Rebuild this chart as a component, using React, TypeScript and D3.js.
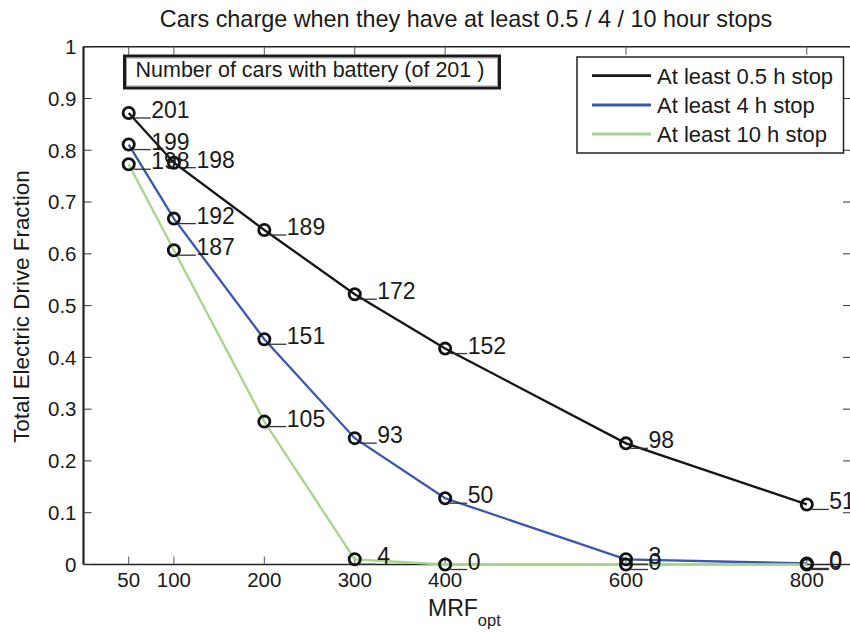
import React from "react";
import * as d3 from "d3";

// MRF_opt values on the x axis
const mrf = [50, 100, 200, 300, 400, 600, 800];
// Total electric drive fraction per minimum stop length
const frac05 = [0.872, 0.776, 0.646, 0.522, 0.417, 0.234, 0.116];
const frac4 = [0.811, 0.668, 0.435, 0.244, 0.128, 0.01, 0.002];
const frac10 = [0.773, 0.607, 0.276, 0.01, 0, 0, 0];
// Number of cars with a battery (of 201)
const cars05 = [201, 198, 189, 172, 152, 98, 51];
const cars4 = [199, 192, 151, 93, 50, 3, 0];
const cars10 = [198, 187, 105, 4, 0, 0, 0];

const seriesNames = ["At least 0.5 h stop", "At least 4 h stop", "At least 10 h stop"];
const seriesColors = ["#151515", "#3a58a8", "#a6d68c"];
const xTicks = [50, 100, 200, 300, 400, 600, 800];
const yTicks = [0, 0.1, 0.2, 0.3, 0.4, 0.5, 0.6, 0.7, 0.8, 0.9, 1];

const W = 850;
const H = 632;
const FONT = "'Liberation Sans', Arial, Helvetica, sans-serif";
const INK = "#1a1a1a";

export default function App() {
  const x = d3.scaleLinear().domain([0, 850]).range([83.5, 852]);
  const y = d3.scaleLinear().domain([0, 1]).range([564.5, 46.7]);
  const left = x.range()[0];
  const right = x.range()[1];
  const top = y.range()[1];
  const bottom = y.range()[0];

  const series = [
    { name: seriesNames[0], color: seriesColors[0], values: frac05, counts: cars05 },
    { name: seriesNames[1], color: seriesColors[1], values: frac4, counts: cars4 },
    { name: seriesNames[2], color: seriesColors[2], values: frac10, counts: cars10 },
  ];

  const line = d3
    .line<number>()
    .x((_, i) => x(mrf[i]))
    .y((v) => y(v));

  const legendX = 577;
  const legendY = 57;
  const legendRows = [75.7, 105, 134];

  return (
    <div style={{ position: "fixed", left: 0, top: 0, width: W, height: H, background: "#fff" }}>
      <svg width={W} height={H} style={{ display: "block", fontFamily: FONT }}>
        <rect x={0} y={0} width={W} height={H} fill="#fff" />
        {/* title */}
        <text x={466} y={27} textAnchor="middle" fontSize={23.4} fill={INK}>
          Cars charge when they have at least 0.5 / 4 / 10 hour stops
        </text>

        {/* axes frame */}
        <line x1={left} x2={right} y1={top} y2={top} stroke="#222" strokeWidth={1.6} />
        <line x1={left} x2={right} y1={bottom} y2={bottom} stroke="#222" strokeWidth={1.6} />
        <line x1={left} x2={left} y1={top} y2={bottom} stroke="#222" strokeWidth={2.2} />
        <line x1={right} x2={right} y1={top} y2={bottom} stroke="#222" strokeWidth={1.6} />

        {/* y ticks and labels */}
        {yTicks.map((t) => (
          <g key={"y" + t}>
            <line x1={left} x2={left + 8} y1={y(t)} y2={y(t)} stroke="#333" strokeWidth={1} />
            <line x1={right - 9} x2={right} y1={y(t)} y2={y(t)} stroke="#333" strokeWidth={1} />
            <text x={76.5} y={y(t) + 7.3} textAnchor="end" fontSize={20.5} fill={INK}>
              {d3.format("~g")(t)}
            </text>
          </g>
        ))}

        {/* x ticks and labels */}
        {xTicks.map((t) => (
          <g key={"x" + t}>
            <line x1={x(t)} x2={x(t)} y1={bottom} y2={bottom - 8} stroke="#555" strokeWidth={1} />
            <line x1={x(t)} x2={x(t)} y1={top} y2={top + 8} stroke="#555" strokeWidth={1} />
            <text x={x(t)} y={587} textAnchor="middle" fontSize={20.5} fill={INK}>
              {t}
            </text>
          </g>
        ))}

        {/* axis labels */}
        <text x={428} y={616} fontSize={23} fill={INK}>
          MRF
          <tspan fontSize={16.5} dy={10}>
            opt
          </tspan>
        </text>
        <text
          transform={`translate(29, ${(top + bottom) / 2 + 1}) rotate(-90)`}
          textAnchor="middle"
          fontSize={22.4}
          fill={INK}
        >
          Total Electric Drive Fraction
        </text>

        {/* series lines */}
        {series.map((s) => (
          <path key={s.name} d={line(s.values) || ""} fill="none" stroke={s.color} strokeWidth={2.3} />
        ))}

        {/* markers with car counts */}
        {series.map((s) =>
          s.values.map((v, i) => {
            const cx = x(mrf[i]);
            const cy = y(v);
            return (
              <g key={s.name + i}>
                <circle cx={cx} cy={cy} r={5.6} fill="none" stroke="#111" strokeWidth={2.8} />
                <line x1={cx + 5} x2={cx + 22} y1={cy + 5} y2={cy + 5} stroke="#333" strokeWidth={1.3} />
                <text x={cx + 22.5} y={cy + 5} fontSize={23} fill={INK}>
                  {s.counts[i]}
                </text>
              </g>
            );
          })
        )}

        {/* annotation box */}
        <rect x={124.5} y={56} width={375} height={32} fill="#fff" stroke="#1a1a1a" strokeWidth={3} />
        <rect x={126.5} y={58} width={371} height={28} fill="none" stroke="#888" strokeWidth={0.8} />
        <text x={135.5} y={76.8} fontSize={21.5} fill={INK}>
          Number of cars with battery (of 201 )
        </text>

        {/* legend */}
        <rect x={legendX} y={legendY} width={843.5 - legendX} height={96} fill="#fff" stroke="#222" strokeWidth={1.5} />
        {series.map((s, i) => (
          <g key={"leg" + i}>
            <line x1={592} x2={651} y1={legendRows[i]} y2={legendRows[i]} stroke={s.color} strokeWidth={2.8} />
            <text x={657} y={legendRows[i] + 7.8} fontSize={22} fill={INK}>
              {s.name}
            </text>
          </g>
        ))}
      </svg>
    </div>
  );
}
